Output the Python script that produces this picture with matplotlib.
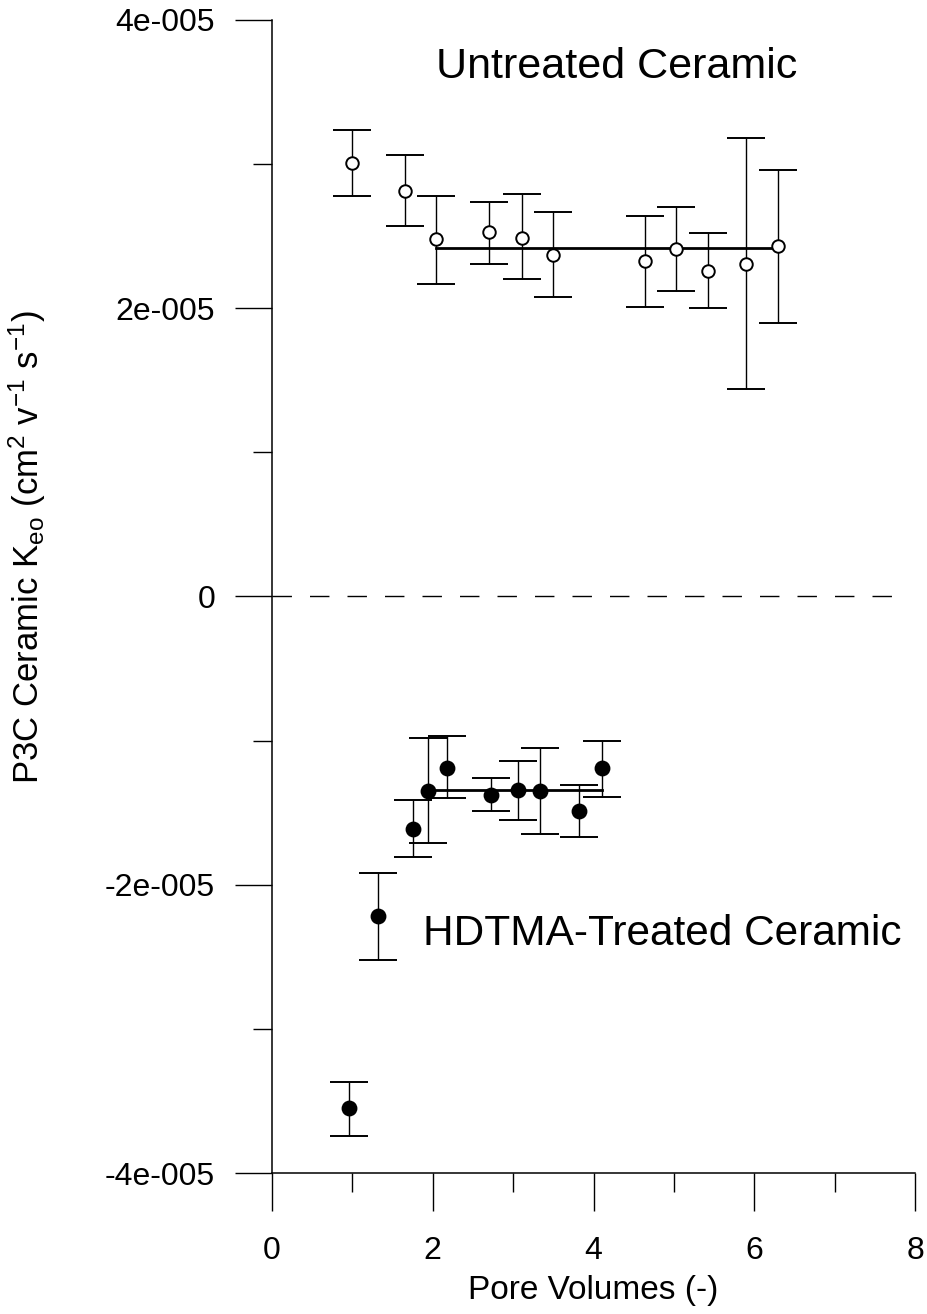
import matplotlib
matplotlib.use("Agg")
import matplotlib.pyplot as plt
from matplotlib.ticker import FixedLocator, FuncFormatter

plt.rcParams['font.family'] = ['Liberation Sans', 'DejaVu Sans']
plt.rcParams['mathtext.default'] = 'regular'
plt.rcParams['axes.unicode_minus'] = False

# untreated ceramic (open circles), values in 1e-5 cm2/(V s)
pv_untr = [0.99, 1.65, 2.04, 2.70, 3.11, 3.49, 4.64, 5.03, 5.43, 5.90, 6.29]
k_untr = [3.01, 2.81, 2.48, 2.53, 2.49, 2.37, 2.33, 2.41, 2.26, 2.31, 2.43]
hi_untr = [3.24, 3.06, 2.78, 2.74, 2.79, 2.67, 2.64, 2.70, 2.52, 3.18, 2.96]
lo_untr = [2.78, 2.57, 2.17, 2.31, 2.20, 2.08, 2.01, 2.12, 2.00, 1.44, 1.90]
mean_untr = 2.42

# HDTMA-treated ceramic (filled circles)
pv_trt = [0.96, 1.32, 1.75, 1.94, 2.18, 2.72, 3.06, 3.34, 3.82, 4.11]
k_trt = [-3.55, -2.22, -1.61, -1.35, -1.19, -1.38, -1.34, -1.35, -1.49, -1.19]
hi_trt = [-3.37, -1.92, -1.41, -0.98, -0.97, -1.26, -1.14, -1.05, -1.31, -1.00]
lo_trt = [-3.74, -2.52, -1.81, -1.71, -1.40, -1.49, -1.55, -1.65, -1.67, -1.39]
mean_trt = -1.345

sc = 1e-5
yticks = [-4e-5, -2e-5, 0, 2e-5, 4e-5]
ytick_labels = ['-4e-005', '-2e-005', '0', '2e-005', '4e-005']

fig = plt.figure(figsize=(9.27, 13.14), dpi=100)
ax = fig.add_axes([0.2934, 0.1073, 0.6937, 0.8775])

def draw(pv, k, hi, lo, filled):
    y = [v * sc for v in k]
    err = [[(v - l) * sc for v, l in zip(k, lo)], [(h - v) * sc for v, h in zip(k, hi)]]
    ax.errorbar(pv, y, yerr=err, fmt='o', ms=10 if filled else 9,
                mfc='black' if filled else 'white', mec='black', mew=1.4,
                ecolor='black', elinewidth=1.0, capsize=13.5, capthick=1.0,
                zorder=3)

draw(pv_untr, k_untr, hi_untr, lo_untr, False)
draw(pv_trt, k_trt, hi_trt, lo_trt, True)

# mean lines over the plateau
ax.plot([pv_untr[2], pv_untr[-1]], [mean_untr * sc] * 2, color='black', lw=2.0, zorder=2)
ax.plot([pv_trt[3], pv_trt[-1]], [mean_trt * sc] * 2, color='black', lw=2.0, zorder=2)

# zero line
ax.plot([0, 7.87], [0, 0], color='black', lw=1.0, dashes=(14, 13), zorder=1)

ax.set_xlim(0, 8)
ax.set_ylim(-4e-5, 4e-5)
for s in ['top', 'right']:
    ax.spines[s].set_visible(False)
for s in ['left', 'bottom']:
    ax.spines[s].set_linewidth(1.1)

ax.xaxis.set_major_locator(FixedLocator([0, 2, 4, 6, 8]))
ax.xaxis.set_minor_locator(FixedLocator([1, 3, 5, 7]))
ax.yaxis.set_major_locator(FixedLocator(yticks))
ax.yaxis.set_minor_locator(FixedLocator([-3e-5, -1e-5, 1e-5, 3e-5]))
ax.yaxis.set_major_formatter(FuncFormatter(lambda v, p: ytick_labels[yticks.index(v)] if v in yticks else ''))

ax.tick_params(which='major', direction='out', length=27, width=1.0, labelsize=23)
ax.tick_params(which='minor', direction='out', length=14, width=1.0)
ax.tick_params(axis='y', which='major', pad=14)
ax.tick_params(axis='x', which='major', pad=18)

ax.set_xlabel('Pore Volumes (-)', fontsize=24)
ax.set_ylabel('P3C Ceramic K$_{eo}$ (cm$^2$ v$^{-1}$ s$^{-1}$)', fontsize=25)
ax.xaxis.set_label_coords(0.5, -0.0885)
ax.yaxis.set_label_coords(-0.348, 0.543)

ax.text(4.29, 3.674e-5, 'Untreated Ceramic', fontsize=31, ha='center', va='center')
ax.text(4.85, -2.343e-5, 'HDTMA-Treated Ceramic', fontsize=30.5, ha='center', va='center')

fig.savefig('out.png', dpi=100)
